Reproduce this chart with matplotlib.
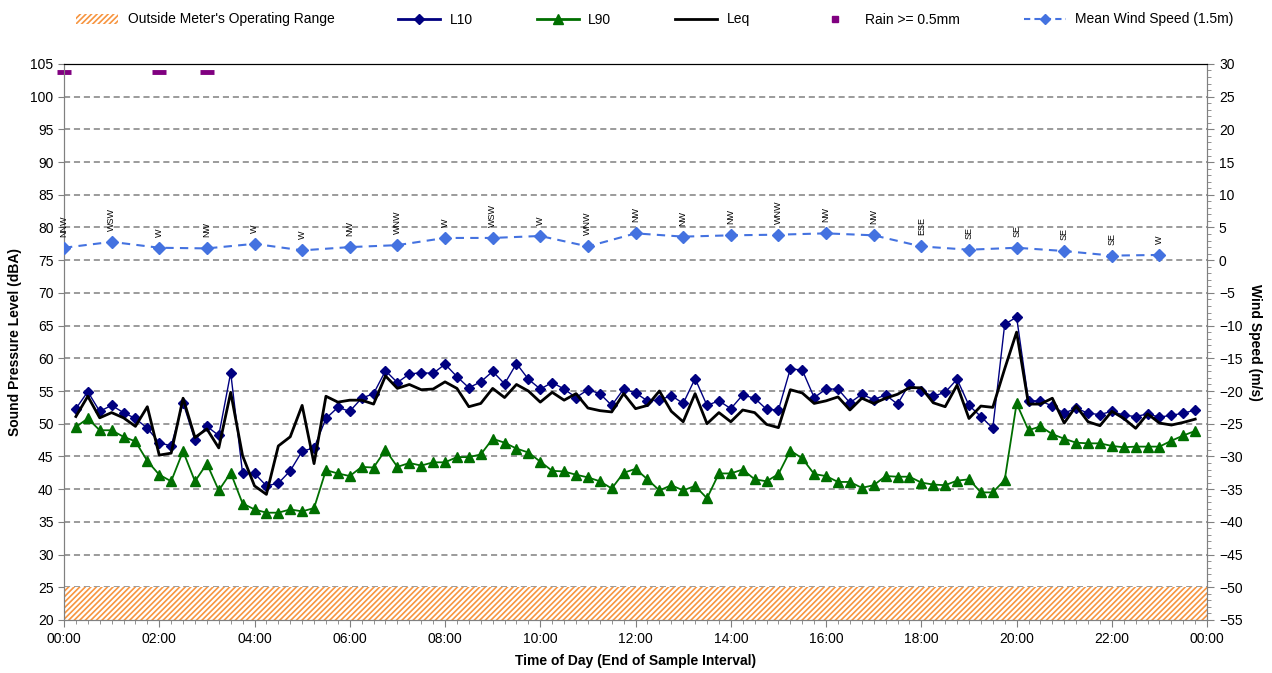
import matplotlib
matplotlib.use("Agg")
import matplotlib.pyplot as plt
from matplotlib.patches import Patch
from matplotlib.lines import Line2D
from matplotlib.ticker import MultipleLocator, FuncFormatter
import numpy as np

plt.rcParams['font.family'] = ['Liberation Sans', 'DejaVu Sans']
plt.rcParams['hatch.linewidth'] = 1.2

# 15-minute intervals, end of interval (00:15 .. 23:45)
l10 = [52.3, 54.9, 51.9, 52.8, 51.7, 50.8, 49.3, 47.1, 46.6, 53.2,
       47.5, 49.6, 48.2, 57.8, 42.4, 42.4, 40.5, 40.9, 42.8, 45.8,
       46.3, 50.8, 52.5, 51.9, 53.9, 54.6, 58.1, 56.3, 57.6, 57.8,
       57.7, 59.1, 57.2, 55.5, 56.4, 58.0, 56.1, 59.2, 56.8, 55.3,
       56.3, 55.3, 54.0, 55.2, 54.6, 52.8, 55.3, 54.7, 53.5, 53.6,
       54.3, 53.1, 56.9, 52.8, 53.5, 52.3, 54.4, 53.9, 52.2, 52.1,
       58.4, 58.2, 54.0, 55.3, 55.3, 53.2, 54.5, 53.7, 54.4, 53.0,
       56.1, 55.0, 54.2, 54.8, 56.8, 52.8, 51.1, 49.3, 65.2, 66.3,
       53.5, 53.5, 52.7, 51.6, 52.4, 51.6, 51.4, 51.9, 51.3, 51.1,
       51.5, 51.0, 51.3, 51.6, 52.1]
l90 = [49.5, 50.8, 49.0, 49.0, 48.0, 47.3, 44.3, 42.2, 41.2, 45.8,
       41.2, 43.9, 39.8, 42.5, 37.8, 36.9, 36.4, 36.4, 36.9, 36.6,
       37.1, 42.9, 42.4, 42.0, 43.4, 43.3, 46.0, 43.4, 44.0, 43.6,
       44.1, 44.1, 44.9, 44.9, 45.3, 47.7, 47.1, 46.2, 45.6, 44.2,
       42.8, 42.7, 42.2, 41.8, 41.2, 40.1, 42.5, 43.1, 41.5, 39.8,
       40.6, 39.8, 40.5, 38.6, 42.4, 42.4, 43.0, 41.5, 41.2, 42.3,
       45.9, 44.7, 42.3, 42.0, 41.1, 41.1, 40.2, 40.6, 42.0, 41.9,
       41.9, 41.0, 40.7, 40.6, 41.3, 41.5, 39.5, 39.5, 41.4, 53.1,
       49.0, 49.6, 48.4, 47.7, 47.1, 47.0, 47.0, 46.6, 46.4, 46.5,
       46.5, 46.5, 47.4, 48.2, 48.9]
leq = [51.1, 54.2, 50.9, 51.7, 50.9, 49.6, 52.6, 45.2, 45.5, 53.9,
       47.9, 49.2, 46.3, 54.8, 45.1, 40.5, 39.2, 46.6, 48.0, 52.8,
       43.9, 54.2, 53.3, 53.6, 53.6, 53.0, 57.3, 55.4, 56.0, 55.2,
       55.3, 56.4, 55.4, 52.6, 53.1, 55.4, 54.0, 56.0, 55.0, 53.3,
       54.8, 53.6, 54.6, 52.4, 52.0, 51.8, 54.6, 52.3, 52.8, 55.0,
       51.9, 50.3, 54.6, 50.0, 51.7, 50.3, 52.1, 51.7, 49.9, 49.4,
       55.2, 54.7, 53.1, 53.5, 54.1, 52.1, 53.9, 53.1, 53.9, 54.5,
       55.5, 55.5, 53.2, 52.6, 55.9, 50.8, 52.7, 52.5, 58.4, 64.0,
       53.0, 53.0, 53.9, 50.1, 52.7, 50.3, 49.7, 51.9, 50.8, 49.3,
       51.5, 50.1, 49.8, 50.2, 50.7]
t_noise = [0.25 * (i + 1) for i in range(len(l10))]

# hourly wind
wind_hours = list(range(24))
wind_speed = [1.9, 2.8, 1.9, 1.8, 2.5, 1.5, 2.0, 2.3, 3.4, 3.4, 3.7, 2.1,
              4.1, 3.6, 3.8, 3.9, 4.1, 3.8, 2.1, 1.6, 1.9, 1.4, 0.7, 0.8]
wind_dir = ["NNW", "WSW", "W", "NW", "W", "W", "NW", "WNW", "W", "WSW", "W", "WNW",
            "NW", "NW", "NW", "WNW", "NW", "NW", "ESE", "SE", "SE", "SE", "SE", "W"]

rain_hours = [0, 2, 3]
rain_level = [103.7, 103.7, 103.7]

range_low, range_high = 20, 25

hatch_col = '#F79540'

fig = plt.figure(figsize=(12.72, 6.73), dpi=100)
ax = fig.add_axes([0.0503, 0.0788, 0.8987, 0.8262])
ax2 = ax.twinx()

ax.set_xlim(0, 24)
ax.set_ylim(20, 105)
ax2.set_ylim(-55, 30)

ax.yaxis.set_major_locator(MultipleLocator(5))
ax.yaxis.grid(True, linestyle=(0, (4, 2.5)), color='#808080', linewidth=1.1)
ax.set_axisbelow(True)

ax.axhspan(range_low, range_high, facecolor='white', edgecolor=hatch_col,
           hatch='//////', linewidth=0, zorder=1)

ax.plot(t_noise, l10, color='#000080', marker='D', markersize=5.5, linewidth=1.0, zorder=4)
ax.plot(t_noise, l90, color='#006F00', marker='^', markersize=7, linewidth=1.3, zorder=3)
ax.plot(t_noise, leq, color='black', linewidth=2.0, zorder=5)
ax.plot(rain_hours, rain_level, linestyle='none', marker='_', markersize=10,
        markeredgewidth=3.5, color='#800080', zorder=6, clip_on=False)

ax2.plot(wind_hours, wind_speed, color='#4472E0', linestyle=(0, (4, 3)), linewidth=1.5,
         marker='D', markersize=6, zorder=4)
for h, s, d in zip(wind_hours, wind_speed, wind_dir):
    ax2.annotate(d, (h, s), xytext=(0, 11), textcoords='offset pixels',
                 rotation=90, ha='center', va='bottom', fontsize=6.5)

ax.xaxis.set_major_locator(MultipleLocator(2))
ax.xaxis.set_minor_locator(MultipleLocator(0.25))
ax.xaxis.set_major_formatter(FuncFormatter(lambda v, p: "%02d:00" % (int(round(v)) % 24)))
ax2.yaxis.set_major_locator(MultipleLocator(5))
ax2.yaxis.set_minor_locator(MultipleLocator(1))

for a in (ax, ax2):
    for side in ('left', 'right', 'bottom'):
        a.spines[side].set_color('#808080')
    a.spines['top'].set_color('black')
    a.tick_params(which='both', color='#808080', labelsize=10)
ax.tick_params(axis='x', which='major', length=5)
ax.tick_params(axis='x', which='minor', length=3)
ax.tick_params(axis='y', length=4)
ax2.tick_params(axis='y', which='major', length=5)
ax2.tick_params(axis='y', which='minor', length=3)

ax.set_ylabel("Sound Pressure Level (dBA)", fontsize=10, fontweight='bold', labelpad=6)
ax2.set_ylabel("Wind Speed (m/s)", fontsize=10, fontweight='bold', rotation=270, labelpad=14)
ax.set_xlabel("Time of Day (End of Sample Interval)", fontsize=10, fontweight='bold', labelpad=6)

handles = [
    Patch(facecolor='white', edgecolor=hatch_col, hatch='//////', linewidth=0),
    Line2D([], [], color='#000080', marker='D', markersize=5.5, linewidth=2),
    Line2D([], [], color='#006F00', marker='^', markersize=7, linewidth=2),
    Line2D([], [], color='black', linewidth=2),
    Line2D([], [], linestyle='none', marker='s', markersize=4, color='#800080'),
    Line2D([], [], color='#4472E0', linestyle=(0, (3, 2)), marker='D', markersize=5, linewidth=1.5),
]
labels = ["Outside Meter's Operating Range", "L10", "L90", "Leq",
          "Rain >= 0.5mm", "Mean Wind Speed (1.5m)"]
fig.legend(handles, labels, loc='upper center', ncol=6, frameon=False,
           bbox_to_anchor=(0.515, 1.0), fontsize=10, handlelength=3.0,
           columnspacing=4.6, handletextpad=0.7)

fig.savefig("out.png", dpi=100)
